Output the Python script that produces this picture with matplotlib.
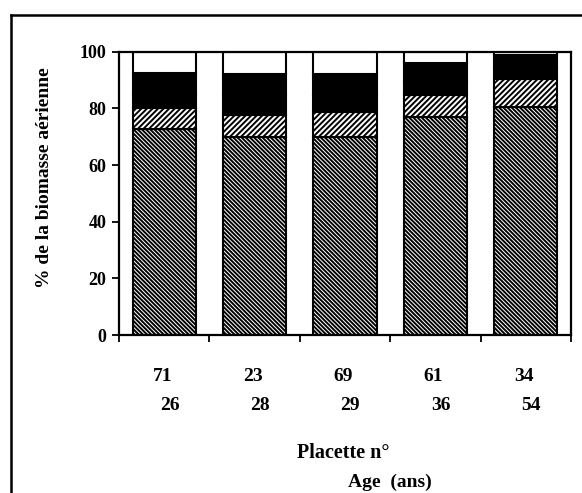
import matplotlib.pyplot as plt
from matplotlib.lines import Line2D

# placette number / stand age (years)
placettes = ['71', '23', '69', '61', '34']
ages = ['26', '28', '29', '36', '54']

# % of above-ground biomass, bottom to top
seg_a = [72.7, 70.0, 69.9, 77.1, 80.6]
seg_b = [7.4, 7.6, 8.9, 7.6, 9.6]
seg_c = [4.6, 7.0, 6.0, 5.0, 4.0]
seg_d = [7.9, 7.7, 7.2, 6.2, 4.6]
seg_e = [7.4, 7.7, 8.0, 4.1, 1.2]

plt.rcParams['font.family'] = ['Liberation Serif', 'DejaVu Serif']
plt.rcParams['font.weight'] = 'bold'
plt.rcParams['hatch.linewidth'] = 1.4

fig = plt.figure(figsize=(5.82, 4.93), dpi=100)
ax = fig.add_axes([119/582, 1-335/493, (571-119)/582, (335-51.7)/493])

x = list(range(len(placettes)))
w = 0.7
bottom = [0]*5

ax.bar(x, seg_a, w, bottom=bottom, facecolor='white', edgecolor='black',
       hatch='\\'*8, linewidth=1.5)
bottom = [bottom[i] + seg_a[i] for i in x]
ax.bar(x, seg_b, w, bottom=bottom, facecolor='white', edgecolor='black',
       hatch='/'*6, linewidth=1.5)
bottom = [bottom[i] + seg_b[i] for i in x]
ax.bar(x, seg_c, w, bottom=bottom, facecolor='black', edgecolor='black',
       linewidth=1.5)
bottom = [bottom[i] + seg_c[i] for i in x]
ax.bar(x, seg_d, w, bottom=bottom, facecolor='black', edgecolor='black',
       linewidth=1.5)
bottom = [bottom[i] + seg_d[i] for i in x]
ax.bar(x, seg_e, w, bottom=bottom, facecolor='white', edgecolor='black',
       linewidth=1.5)

ax.set_xlim(-0.5, 4.5)
ax.set_ylim(0, 100)
ax.set_yticks([0, 20, 40, 60, 80, 100])
ax.set_xticks([-0.5, 0.5, 1.5, 2.5, 3.5, 4.5])
ax.set_xticklabels([])
ax.tick_params(axis='y', labelsize=13, direction='out', length=5, width=1.3, pad=4)
ax.tick_params(axis='x', direction='out', length=5, width=1.3)
for s in ax.spines.values():
    s.set_linewidth(1.6)

for i in x:
    ax.text(i - 0.02, -0.145, placettes[i], transform=ax.get_xaxis_transform(),
            ha='center', va='center', fontsize=14, fontweight='bold')
    ax.text(i + 0.06, -0.25, ages[i], transform=ax.get_xaxis_transform(),
            ha='center', va='center', fontsize=14, fontweight='bold')

fig.text(343/582, 1-453/493, 'Placette n°', ha='center', va='center',
         fontsize=14.5, fontweight='bold')
fig.text(390/582, 1-482/493, 'Age  (ans)', ha='center', va='center',
         fontsize=14, fontweight='bold')
fig.text(45/582, 1-178/493, '% de la biomasse aérienne', rotation=90,
         ha='center', va='center', fontsize=14, fontweight='bold')

# outer frame (top and left edges)
fig.add_artist(Line2D([11/582, 1], [1-15/493, 1-15/493], color='black', lw=1.8))
fig.add_artist(Line2D([11/582, 11/582], [0, 1-15/493], color='black', lw=1.8))

fig.savefig('out.png', dpi=100)
